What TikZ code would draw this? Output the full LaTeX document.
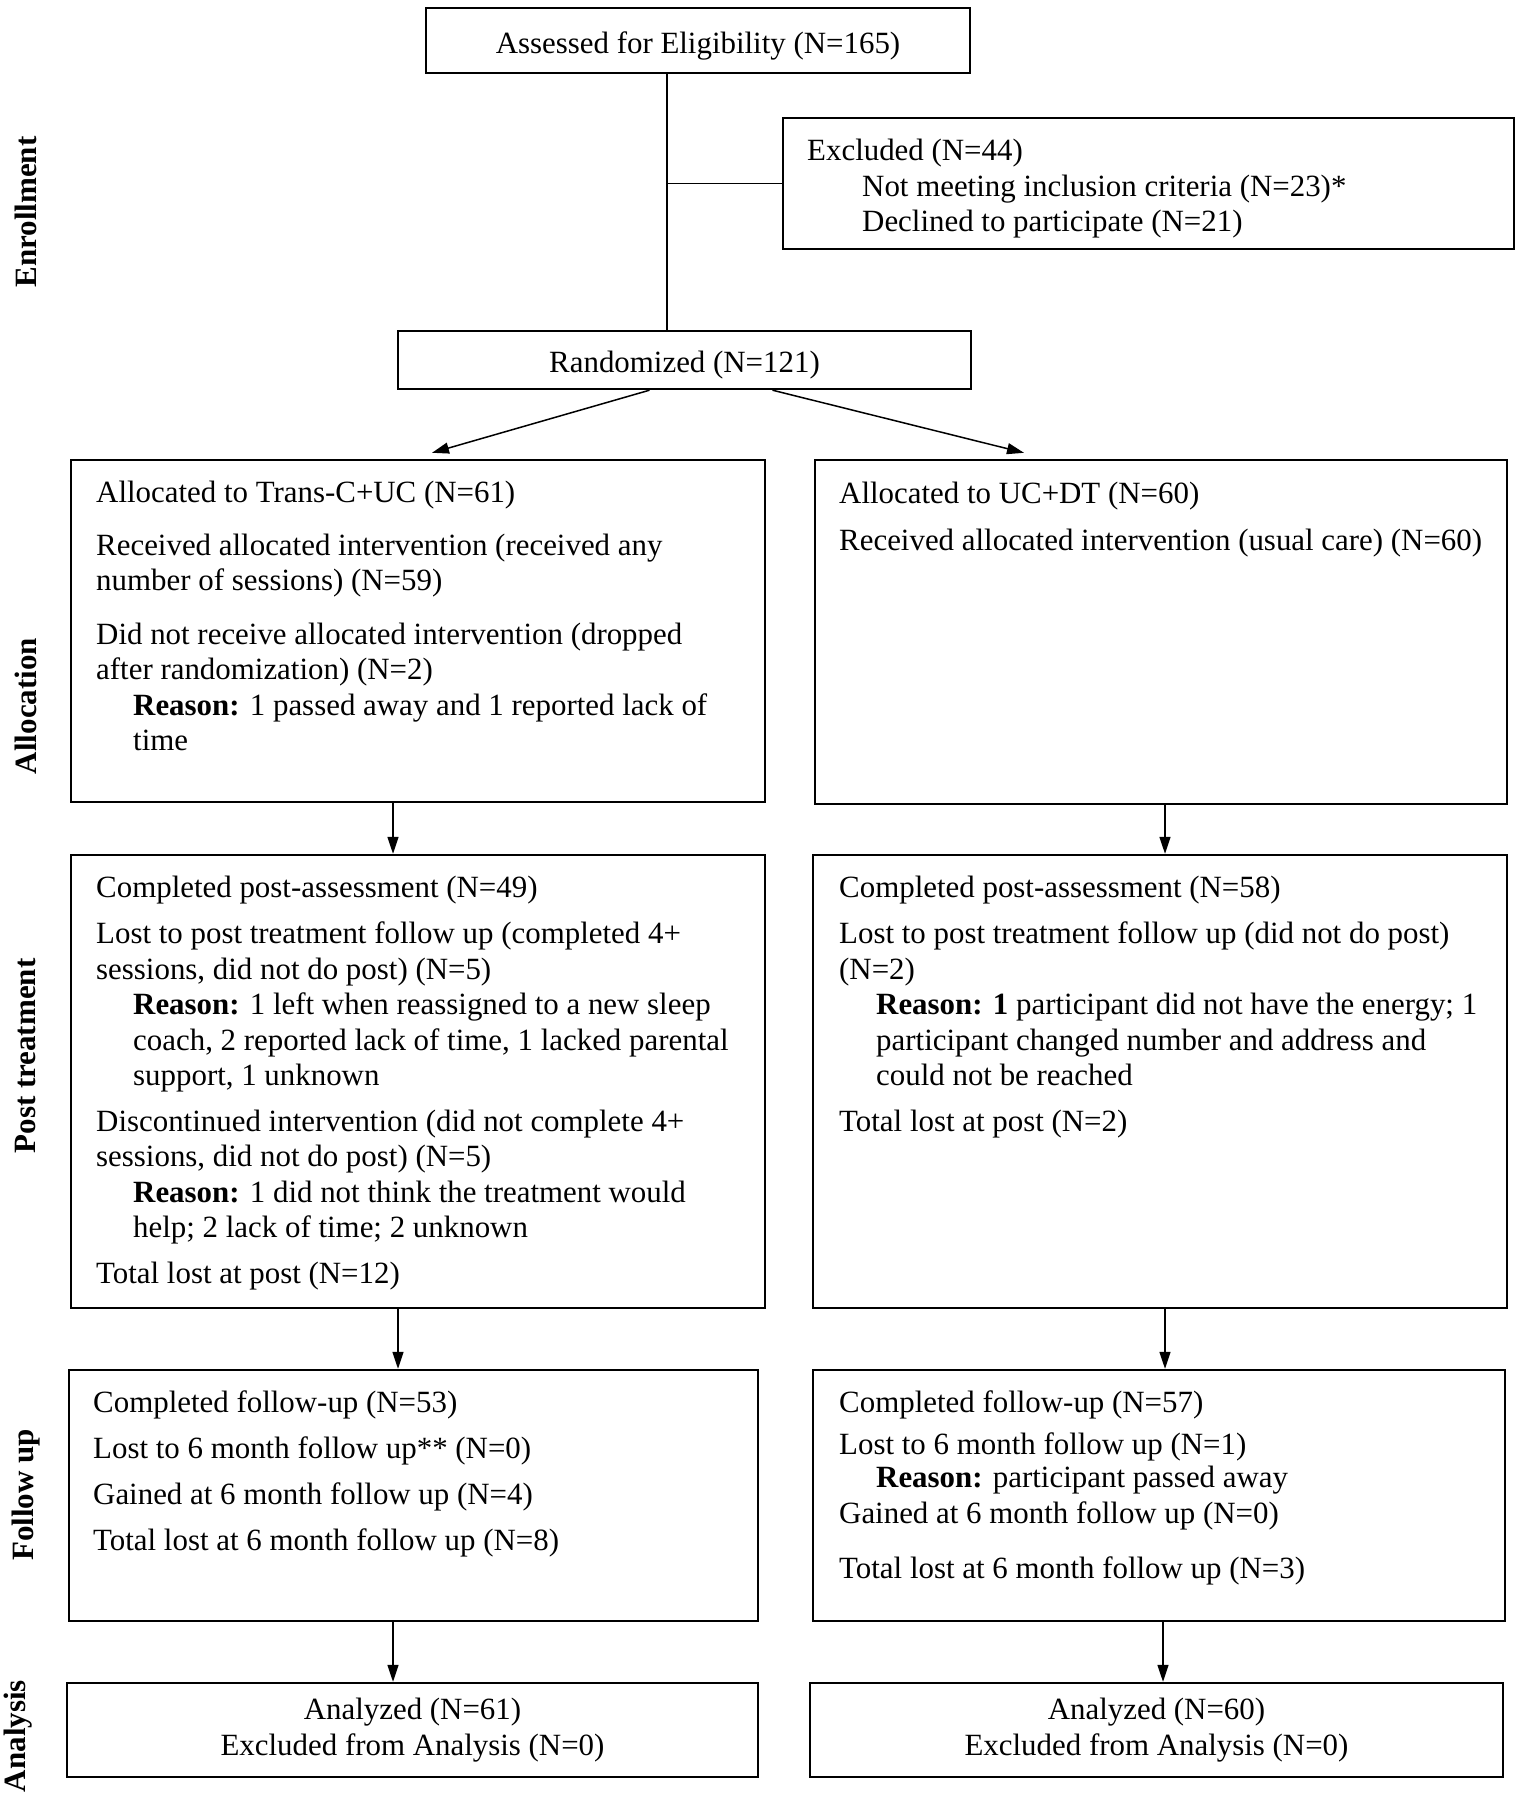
\documentclass[tikz,border=0pt]{standalone}
\usepackage{fontspec}
\setmainfont{Liberation Serif}
\usetikzlibrary{arrows.meta}

\newcommand{\rsnind}{\hspace*{37pt}}

\tikzset{
  box/.style={draw, line width=2.4pt, inner sep=0pt},
  line/.style={line width=1.5pt},
  arr/.style={line width=1.5pt, -{Triangle[length=17pt,width=11pt]}},
  txt/.style={anchor=north west, align=left, inner sep=0pt, yshift=21pt},
  phase/.style={rotate=90, inner sep=0pt, font=\fontsize{31pt}{35pt}\selectfont\bfseries}
}

\begin{document}
\begin{tikzpicture}[x=1pt, y=-1pt, font=\fontsize{30.9pt}{35.5pt}\selectfont]
    \useasboundingbox (0,0) rectangle (1521,1800);

    % enrollment
    \node[box, minimum width=544pt, minimum height=65pt, text height=32pt, text depth=6pt]
      (assess) at (698,40.5) {Assessed for Eligibility (N=165)};
    \node[box, minimum width=731pt, minimum height=131pt] (excl) at (1148.5,183.5) {};
    \node[txt] (excltxt) at (807,160) {Excluded (N=44)\\
      \hspace*{55pt}Not meeting inclusion criteria (N=23)*\\
      \hspace*{55pt}Declined to participate (N=21)};
    \node[box, minimum width=573pt, minimum height=58pt, text height=30pt, text depth=6pt]
      (rand) at (684.5,360) {Randomized (N=121)};

    % allocation
    \node[box, minimum width=694pt, minimum height=342pt] (allocL) at (418,631) {};
    \node[txt] (allocLtxt) at (96,502) {Allocated to Trans-C+UC (N=61)\\[17pt]
      Received allocated intervention (received any\\
      number of sessions) (N=59)\\[18pt]
      Did not receive allocated intervention (dropped\\
      after randomization) (N=2)\\
      \rsnind\textbf{Reason:} 1 passed away and 1 reported lack of\\
      \rsnind time};
    \node[box, minimum width=692pt, minimum height=344pt] (allocR) at (1161,632) {};
    \node[txt] (allocRtxt) at (839,503) {Allocated to UC+DT (N=60)\\[11.5pt]
      Received allocated intervention (usual care) (N=60)};

    % post treatment
    \node[box, minimum width=694pt, minimum height=453pt] (postL) at (418,1081.5) {};
    \node[txt] (postLtxt) at (96,897) {Completed post-assessment (N=49)\\[10.5pt]
      Lost to post treatment follow up (completed 4+\\
      sessions, did not do post) (N=5)\\
      \rsnind\textbf{Reason:} 1 left when reassigned to a new sleep\\
      \rsnind coach, 2 reported lack of time, 1 lacked parental\\
      \rsnind support, 1 unknown\\[10pt]
      Discontinued intervention (did not complete 4+\\
      sessions, did not do post) (N=5)\\
      \rsnind\textbf{Reason:} 1 did not think the treatment would\\
      \rsnind help; 2 lack of time; 2 unknown\\[10.5pt]
      Total lost at post (N=12)};
    \node[box, minimum width=694pt, minimum height=453pt] (postR) at (1160,1081.5) {};
    \node[txt] (postRtxt) at (839,897) {Completed post-assessment (N=58)\\[10.5pt]
      Lost to post treatment follow up (did not do post)\\
      (N=2)\\
      \rsnind\textbf{Reason: 1} participant did not have the energy; 1\\
      \rsnind participant changed number and address and\\
      \rsnind could not be reached\\[10pt]
      Total lost at post (N=2)};

    % follow up
    \node[box, minimum width=689pt, minimum height=251pt] (fuL) at (413.5,1495.5) {};
    \node[txt] (fuLtxt) at (93,1412) {Completed follow-up (N=53)\\[10pt]
      Lost to 6 month follow up** (N=0)\\[10.5pt]
      Gained at 6 month follow up (N=4)\\[11pt]
      Total lost at 6 month follow up (N=8)};
    \node[box, minimum width=692pt, minimum height=251pt] (fuR) at (1159,1495.5) {};
    \node[txt] (fuRtxt) at (839,1412) {Completed follow-up (N=57)\\[6.5pt]
      Lost to 6 month follow up (N=1)\\[-2.5pt]
      \rsnind\textbf{Reason:} participant passed away\\[0.5pt]
      Gained at 6 month follow up (N=0)\\[19.5pt]
      Total lost at 6 month follow up (N=3)};

    % analysis
    \node[box, minimum width=691pt, minimum height=94pt, align=center]
      (anaL) at (412.5,1730) {Analyzed (N=61)\\Excluded from Analysis (N=0)};
    \node[box, minimum width=693pt, minimum height=94pt, align=center]
      (anaR) at (1156.5,1730) {Analyzed (N=60)\\Excluded from Analysis (N=0)};

    % phase labels
    \node[phase] (enrol) at (26,212) {Enrollment};
    \node[phase] (alloc) at (26,706) {Allocation};
    \node[phase] (post) at (26,1056) {Post treatment};
    \node[phase] (follow) at (26,1495) {Follow up};
    \node[phase] (analysis) at (18,1736) {Analysis};

    % connectors
    \coordinate (trunk) at ([xshift=-31pt]assess.south);
    \draw[line] (trunk) -- (trunk |- rand.north);
    \draw[line] (trunk |- excl.west) -- (excl.west);
    \draw[arr] ([xshift=-35pt]rand.south) -- ([xshift=14pt,yshift=6pt]allocL.north);
    \draw[arr] ([xshift=88pt]rand.south) -- ([xshift=-137pt,yshift=6pt]allocR.north);
    \foreach \a/\b/\dx in {allocL/postL/-25, allocR/postR/4, postL/fuL/-20,
                           postR/fuR/5, fuL/anaL/-20.5, fuR/anaR/4}{
      \coordinate (p) at ([xshift=\dx pt]\a.south);
      \draw[arr] (p) -- (p |- \b.north);
    }
\end{tikzpicture}
\end{document}
